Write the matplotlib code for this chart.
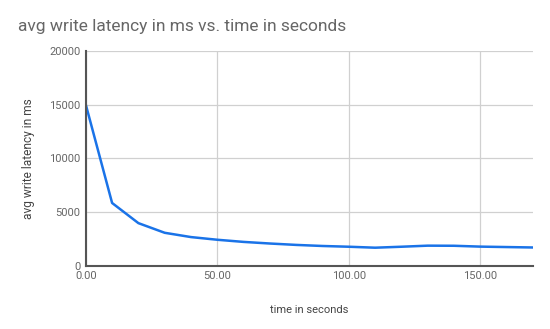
import matplotlib
matplotlib.use("Agg")
import matplotlib.pyplot as plt
from matplotlib.ticker import FormatStrFormatter

# time in seconds, avg write latency in ms
time_s = [0, 10, 20, 30, 40, 50, 60, 70, 80, 90, 100, 110, 120, 130, 140, 150, 160, 170]
latency_ms = [15000, 5830, 3950, 3050, 2650, 2400, 2200, 2050, 1920, 1820, 1750, 1660, 1750, 1850, 1840, 1760, 1720, 1680]

x_ticks = [0, 50, 100, 150]
y_ticks = [0, 5000, 10000, 15000, 20000]

plt.rcParams["font.family"] = ["Roboto", "DejaVu Sans"]

fig = plt.figure(figsize=(5.5, 3.29), dpi=100)
ax = fig.add_axes([0.156, 0.193, 0.813, 0.652])

ax.plot(time_s, latency_ms, color="#1a73e8", linewidth=1.8)

ax.set_xlim(0, 170)
ax.set_ylim(0, 20000)
ax.set_xticks(x_ticks)
ax.set_yticks(y_ticks)
ax.xaxis.set_major_formatter(FormatStrFormatter("%.2f"))
ax.grid(True, color="#d0d0d0", linewidth=0.9)
ax.set_axisbelow(True)
ax.tick_params(length=0, labelsize=8, labelcolor="#666666", pad=4)

for side in ["top", "right"]:
    ax.spines[side].set_visible(False)
for side in ["left", "bottom"]:
    ax.spines[side].set_color("#555555")
    ax.spines[side].set_linewidth(1.5)

ax.set_xlabel("time in seconds", fontsize=8, color="#444444", labelpad=17)
ax.set_ylabel("avg write latency in ms", fontsize=8.6, color="#444444", labelpad=10)
fig.text(0.033, 0.905, "avg write latency in ms vs. time in seconds", fontsize=12.5, color="#666666")

fig.savefig("out.png", dpi=100)
